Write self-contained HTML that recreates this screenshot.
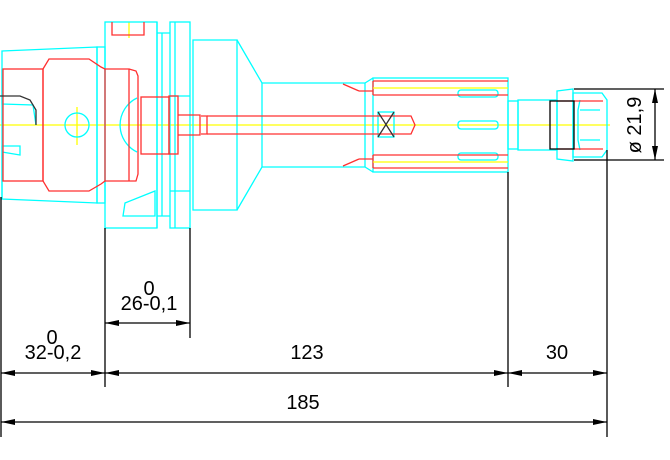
<!DOCTYPE html>
<html><head><meta charset="utf-8"><style>
html,body{margin:0;padding:0;background:#fff;width:670px;height:460px;overflow:hidden}
svg{display:block}
text{font-family:"Liberation Sans",Arial,sans-serif;font-size:20px;fill:#000}
</style></head><body>
<svg width="670" height="460" viewBox="0 0 670 460" xmlns="http://www.w3.org/2000/svg">
<g fill="none" stroke-width="1.3">
<line x1="0" y1="125" x2="610" y2="125" stroke="#ffff00"/>
<line x1="77" y1="107" x2="77" y2="145" stroke="#ffff00"/>
<line x1="129" y1="22" x2="129" y2="38" stroke="#ffff00"/>
<g stroke="#00ffff">
<path d="M2,51 L97,47 L97,203 L2,199 Z"/>
<path d="M2,69 L2,104 L33,105 L36,125 M2,199 L2,146 L20,146 L20,155 L2,152"/>
<rect x="97" y="47" width="8" height="156"/>
<rect x="105" y="22" width="52" height="206"/>
<path d="M157,22 L157,228 M157,33 L170,33 M157,216 L170,216 M162,33 L162,216"/>
<rect x="170" y="22" width="20" height="206"/>
<path d="M175,22 L175,228 M170,96 L190,96 M170,191 L190,191"/>
<path d="M125,203 L155,191 L155,216 L123,216 Z"/>
<circle cx="77" cy="125" r="12"/>
<path d="M137,98 A30,30 0 0 0 137,152"/>
<path d="M193,40 L237,40 L237,210 L193,210 Z"/>
<path d="M237,40 L262,83 L365,83 L373,78 M237,210 L262,167 L365,167 L373,172"/>
<path d="M262,83 L262,167 M365,83 L365,167"/>
<rect x="373" y="78" width="135" height="94"/>
<rect x="378" y="112" width="16" height="25"/>
<rect x="458" y="90" width="40" height="7" rx="3"/>
<rect x="458" y="121" width="40" height="8" rx="3"/>
<rect x="458" y="153" width="40" height="7" rx="3"/>
<rect x="508" y="101" width="10" height="48"/>
<rect x="518" y="100" width="39" height="50"/>
<path d="M557,91 L573,89 L573,161 L557,159 Z"/>
<path d="M573,93 L602,93 L607,100 L607,150 L602,157 L573,157 Z"/>
<path d="M580,110 L600,110 M580,140 L600,140 M580,100 L578,110 L578,140 L580,150"/>
</g>
<g stroke="#ff3030">
<rect x="3" y="69" width="40" height="112"/>
<path d="M43,69 L49,59 L89,59 L101,67 L105,69 L105,181 L101,184 L89,191 L49,191 L43,181 Z"/>
<path d="M105,69 L129,69 L129,181 L105,181 M129,69 L136,71 L138,76 L138,174 L136,181 L129,181"/>
<path d="M112,22 L112,35 L144,35 L144,22"/>
<rect x="141" y="97" width="28" height="57"/>
<rect x="169" y="96" width="9" height="58"/>
<path d="M178,115 L200,115 L200,135 L178,135 M201,116 L207,116 L207,134 L201,134"/>
<path d="M207,116 L411,116 L415,125 L411,134 L207,134"/>
<path d="M373,81 L508,81 M373,95 L508,95 M373,81 L373,95 M359,91 L373,91 M359,91 L343,84"/>
<path d="M373,155 L508,155 M373,168 L508,168 M373,155 L373,168 M359,159 L373,159 M359,159 L343,166"/>
<path d="M557,101 L603,101 M557,149 L603,149"/>
</g>
<g stroke="#ffff00">
<path d="M373,88 L508,88 M373,162 L508,162"/>
</g>
<g stroke="#000">
<path d="M0,96 L20,96 L30,100 L36,110 L36,125" stroke="#333"/>
<path d="M378,112 L394,137 M394,112 L378,137" stroke="#333"/>
<path d="M550,101 L574,101 L574,149 L550,149 Z"/>
<line x1="1" y1="197" x2="1" y2="437"/>
<line x1="105" y1="228" x2="105" y2="387"/>
<line x1="190" y1="228" x2="190" y2="338"/>
<line x1="508" y1="172" x2="508" y2="387"/>
<line x1="607" y1="150" x2="607" y2="437"/>
<line x1="574" y1="89" x2="664" y2="89"/>
<line x1="574" y1="160" x2="664" y2="160"/>
<line x1="655" y1="89" x2="655" y2="160"/>
<line x1="105" y1="323" x2="190" y2="323"/>
<line x1="1" y1="373" x2="607" y2="373"/>
<line x1="1" y1="422" x2="607" y2="422"/>
</g>
</g>
<g fill="#000">
<path d="M105,323 l14,-3 v6z M190,323 l-14,-3 v6z"/>
<path d="M1,373 l14,-3 v6z M105,373 l-14,-3 v6z M105,373 l14,-3 v6z M508,373 l-14,-3 v6z M508,373 l14,-3 v6z M607,373 l-14,-3 v6z"/>
<path d="M1,422 l14,-3 v6z M607,422 l-14,-3 v6z"/>
<path d="M655,89 l-3,14 h6z M655,160 l-3,-14 h6z"/>
</g>
<text x="52" y="344" text-anchor="middle">0</text>
<text x="53" y="359" text-anchor="middle">32-0,2</text>
<text x="149" y="295" text-anchor="middle">0</text>
<text x="149" y="310" text-anchor="middle">26-0,1</text>
<text x="307" y="359" text-anchor="middle">123</text>
<text x="557" y="359" text-anchor="middle">30</text>
<text x="303" y="409" text-anchor="middle">185</text>
<text transform="translate(641,125) rotate(-90)" text-anchor="middle">ø 21,9</text>
</svg>
</body></html>
